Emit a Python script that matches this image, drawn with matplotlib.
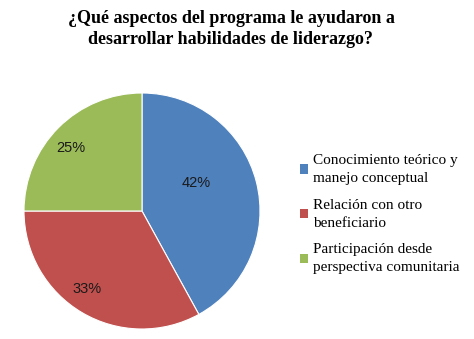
import matplotlib
matplotlib.use("Agg")
import matplotlib.pyplot as plt
from matplotlib.patches import Patch

title = "¿Qué aspectos del programa le ayudaron a\ndesarrollar habilidades de liderazgo?"
categories = ["Conocimiento teórico y\nmanejo conceptual",
              "Relación con otro\nbeneficiario",
              "Participación desde\nperspectiva comunitaria"]
values = [42, 33, 25]
pct_labels = ["42%", "33%", "25%"]
colors = ["#4F81BD", "#C0504D", "#9BBB59"]
label_pos = [(0.46, 0.24), (-0.47, -0.66), (-0.60, 0.53)]

fig = plt.figure(figsize=(4.74, 3.39), dpi=100)
fig.patch.set_facecolor("white")

ax = fig.add_axes([24/474, 10/339, 236/474, 236/339])
wedges, _ = ax.pie(values, colors=colors, startangle=90, counterclock=False,
                   radius=1.0, wedgeprops=dict(edgecolor="white", linewidth=0.8))
ax.set_xlim(-1, 1)
ax.set_ylim(-1, 1)
ax.set_aspect("equal")
for txt, (x, y) in zip(pct_labels, label_pos):
    ax.text(x, y, txt, ha="center", va="center", fontsize=10.5,
            family="Liberation Sans", color="#1a1a1a")

fig.text(231/474, 1 - 29/339, title, ha="center", va="center", fontsize=13,
         fontweight="bold", family="Liberation Serif", linespacing=1.35)

handles = [Patch(facecolor=c, edgecolor="none") for c in colors]
leg = fig.legend(handles, categories, loc="upper left",
                 bbox_to_anchor=(300/474, 1 - 154/339), frameon=False,
                 prop=dict(family="Liberation Serif", size=11),
                 handlelength=0.55, handleheight=0.55, handletextpad=0.3,
                 labelspacing=0.9, borderaxespad=0, borderpad=0)
for t in leg.get_texts():
    t.set_linespacing(1.5)

fig.savefig("out.png", dpi=100)
